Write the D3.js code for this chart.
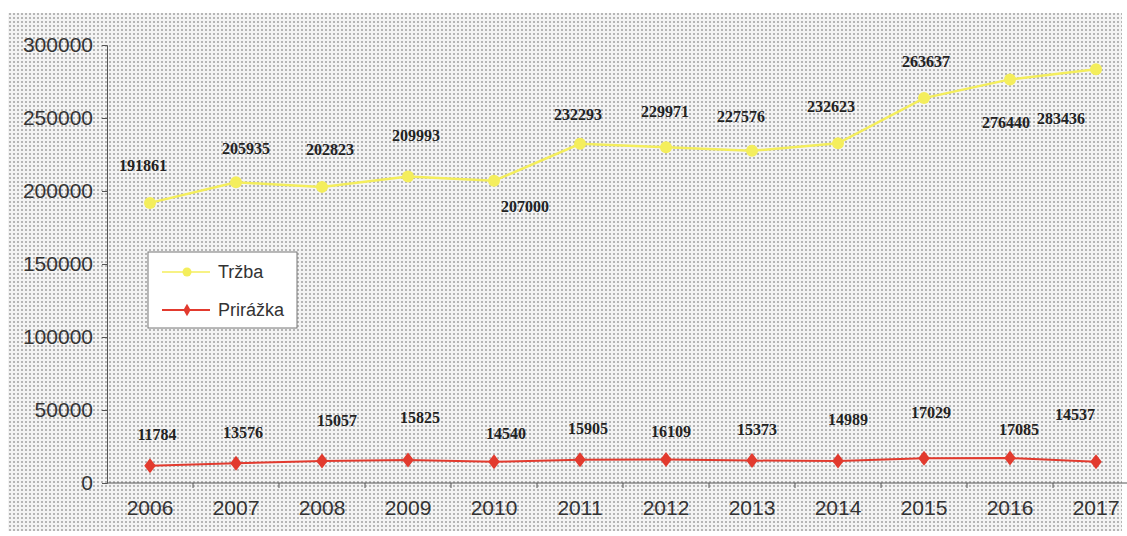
<!DOCTYPE html>
<html>
<head>
<meta charset="utf-8">
<script src="https://cdn.jsdelivr.net/npm/d3@7"></script>
<style>
  body { margin: 0; background: #fff; }
</style>
</head>
<body>
<svg></svg>
<script>
// years on the x axis
const years = ['2006', '2007', '2008', '2009', '2010', '2011', '2012', '2013', '2014', '2015', '2016', '2017'];
// Tržba values
const trzba = [191861, 205935, 202823, 209993, 207000, 232293, 229971, 227576, 232623, 263637, 276440, 283436];
// Prirážka values
const prirazka = [11784, 13576, 15057, 15825, 14540, 15905, 16109, 15373, 14989, 17029, 17085, 14537];
// y axis ticks
const yTicks = [0, 50000, 100000, 150000, 200000, 250000, 300000];

// where the data labels sit relative to their point [dx, dy]
const trzbaLabelOff = [[-7, -37], [10, -34], [8, -37], [8, -41], [31, 26], [-2, -29],
    [-1, -36], [-11, -34], [-7, -37], [2, -37], [-4, 43], [-35, 49]];
const prirLabelOff = [[7, -31], [7, -31], [15, -41], [12, -42], [12, -28], [8, -31],
    [5, -28], [5, -31], [10, -42], [7, -46], [9, -29], [-21, -47]];

const W = 1127, H = 536;
const svg = d3.select('svg')
    .attr('width', W)
    .attr('height', H);

// halftone-ish dotted background
const defs = svg.append('defs');
const pat = defs.append('pattern')
    .attr('id', 'dots')
    .attr('width', 4)
    .attr('height', 4)
    .attr('patternUnits', 'userSpaceOnUse');
pat.append('rect').attr('width', 4).attr('height', 4).attr('fill', '#f4f4f4');
pat.append('rect').attr('x', 1).attr('y', 1).attr('width', 2).attr('height', 2).attr('fill', '#b6b6b6');

svg.append('rect')
    .attr('x', 8).attr('y', 13)
    .attr('width', 1114).attr('height', 518)
    .attr('fill', 'url(#dots)');

const left = 107, right = 1139;
const x = d3.scalePoint().domain(years).range([left, right]).padding(0.5);
const y = d3.scaleLinear().domain([0, 300000]).range([483, 45]);

// y axis
const yAxis = svg.append('g')
    .attr('transform', `translate(${left},0)`)
    .call(d3.axisLeft(y).tickValues(yTicks).tickSize(5).tickPadding(9).tickFormat(d3.format('d')));
yAxis.select('.domain').attr('stroke', '#555');
yAxis.selectAll('.tick line').attr('stroke', '#555');
yAxis.selectAll('text')
    .attr('font-family', 'Liberation Sans, Arial, sans-serif')
    .attr('font-size', 21)
    .attr('fill', '#333');

// x axis, ticks sit between categories
const step = x.step();
const xAxis = svg.append('g').attr('transform', `translate(0,${y(0)})`);
xAxis.append('line')
    .attr('x1', left).attr('x2', W)
    .attr('stroke', '#555');
xAxis.selectAll('.sep')
    .data(years.slice(1))
    .join('line')
    .attr('x1', d => x(d) - step / 2)
    .attr('x2', d => x(d) - step / 2)
    .attr('y1', 0).attr('y2', 5)
    .attr('stroke', '#555');
xAxis.selectAll('text')
    .data(years)
    .join('text')
    .attr('x', d => x(d))
    .attr('y', 32)
    .attr('text-anchor', 'middle')
    .attr('font-family', 'Liberation Sans, Arial, sans-serif')
    .attr('font-size', 21)
    .attr('fill', '#333')
    .text(d => d);

const line = d3.line().x((d, i) => x(years[i])).y(d => y(d));

const yellow = '#f4ee5c', red = '#e23a2e';

// Tržba line
svg.append('path')
    .datum(trzba)
    .attr('d', line)
    .attr('fill', 'none')
    .attr('stroke', yellow)
    .attr('stroke-width', 2.5);
svg.selectAll('.tpt')
    .data(trzba)
    .join('circle')
    .attr('cx', (d, i) => x(years[i]))
    .attr('cy', d => y(d))
    .attr('r', 6)
    .attr('fill', yellow);

// Prirážka line
svg.append('path')
    .datum(prirazka)
    .attr('d', line)
    .attr('fill', 'none')
    .attr('stroke', red)
    .attr('stroke-width', 2);
const diamond = d3.symbol().type(d3.symbolDiamond).size(80);
svg.selectAll('.ppt')
    .data(prirazka)
    .join('path')
    .attr('d', diamond)
    .attr('transform', (d, i) => `translate(${x(years[i])},${y(d)}) scale(1.2,0.9)`)
    .attr('fill', red);

// data labels
function labels(values, offs) {
    svg.append('g')
        .selectAll('text')
        .data(values)
        .join('text')
        .attr('x', (d, i) => x(years[i]) + offs[i][0])
        .attr('y', (d, i) => y(d) + offs[i][1])
        .attr('dy', '0.35em')
        .attr('text-anchor', 'middle')
        .attr('font-family', 'Liberation Serif, Times New Roman, serif')
        .attr('font-weight', 'bold')
        .attr('font-size', 16)
        .attr('fill', '#222')
        .text(d => d);
}
labels(trzba, trzbaLabelOff);
labels(prirazka, prirLabelOff);

// legend
const legend = svg.append('g').attr('transform', 'translate(148,252)');
legend.append('rect')
    .attr('width', 149).attr('height', 76)
    .attr('fill', '#fff')
    .attr('stroke', '#777');
const items = [
    { name: 'Tržba', color: yellow, shape: 'circle', w: 1.5 },
    { name: 'Prirážka', color: red, shape: 'diamond', w: 2 }
];
items.forEach((it, i) => {
    const g = legend.append('g').attr('transform', `translate(0,${20 + i * 38})`);
    g.append('line')
        .attr('x1', 14).attr('x2', 62)
        .attr('stroke', it.color).attr('stroke-width', it.w);
    if (it.shape == 'circle') {
        g.append('circle').attr('cx', 39).attr('r', 4.5).attr('fill', it.color);
    } else {
        g.append('path').attr('d', d3.symbol().type(d3.symbolDiamond).size(45))
            .attr('transform', 'translate(39,0)').attr('fill', it.color);
    }
    g.append('text')
        .attr('x', 70).attr('dy', '0.35em')
        .attr('font-family', 'Liberation Sans, Arial, sans-serif')
        .attr('font-size', 18)
        .attr('fill', '#333')
        .text(it.name);
});
</script>
</body>
</html>
